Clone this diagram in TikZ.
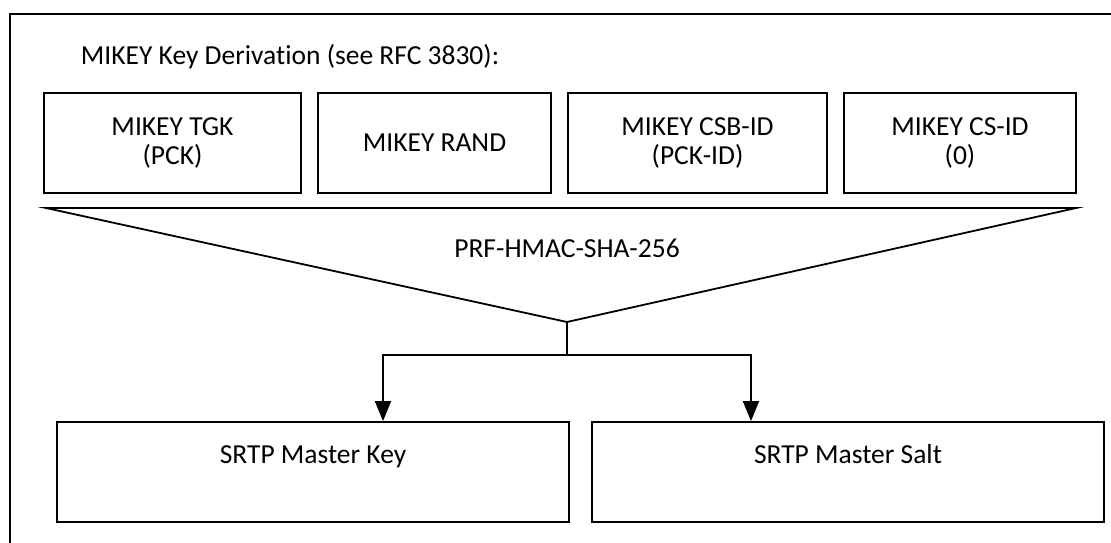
\documentclass[tikz,border=0pt]{standalone}
\usepackage{fontspec}
\setmainfont{Carlito}[Ligatures=NoCommon]
\usetikzlibrary{arrows.meta}
\begin{document}
\begin{tikzpicture}[x=1pt,y=-1pt,
  line width=1.8pt,
  every node/.style={font=\fontsize{27.5}{29}\selectfont},
  keybox/.style={draw, rectangle, inner sep=0pt, minimum height=100pt, align=center},
  plain/.style={inner sep=0pt},
  arr/.style={-{Triangle[width=16pt,length=20pt]}}]
\useasboundingbox (0,0) rectangle (1111,543);
% outer frame
\draw (10,545) -- (10,14) -- (1113,14);
% title
\node[plain, anchor=base west] (title) at (80,65) {MIKEY Key Derivation (see RFC 3830):};
% inputs
\node[keybox, minimum width=257pt] (tgk) at (172.5,143) {MIKEY TGK\\(PCK)};
\node[keybox, minimum width=233pt] (rand) at (434.5,143) {MIKEY RAND};
\node[keybox, minimum width=259pt] (csb) at (697.5,143) {MIKEY CSB-ID\\(PCK-ID)};
\node[keybox, minimum width=232pt] (cs) at (960,143) {MIKEY CS-ID\\(0)};
% PRF funnel
\coordinate (tl) at (46,208);
\coordinate (tr) at (1076,208);
\coordinate (apex) at (567,322);
\draw[line join=miter] (tl) -- (tr) -- (apex) -- cycle;
\node[plain, anchor=base] (prf) at (567,257) {PRF-HMAC-SHA-256};
% outputs
\node[keybox, minimum width=512pt] (mkey) at (313,472) {};
\node[keybox, minimum width=512pt] (msalt) at (848,472) {};
\node[plain, anchor=base] (mkeyt) at (313,463) {SRTP Master Key};
\node[plain, anchor=base] (msaltt) at (848,463) {SRTP Master Salt};
% connectors
\coordinate (split) at (567,355);
\coordinate (lcorner) at (383,355);
\coordinate (rcorner) at (751,355);
\draw (apex) -- (split);
\draw[arr] (split) -- (lcorner) -- (lcorner |- mkey.north);
\draw[arr] (split) -- (rcorner) -- (rcorner |- msalt.north);
\end{tikzpicture}
\end{document}
